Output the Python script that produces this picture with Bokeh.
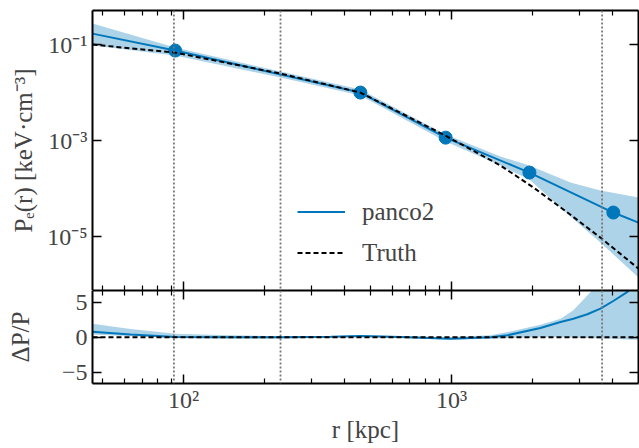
from bokeh.plotting import figure
from bokeh.models import (LogAxis, LinearAxis, FixedTicker, Span, Legend, LegendItem,
                          Range1d)
from bokeh.layouts import column
from bokeh.embed import file_html
from bokeh.resources import INLINE

# ---------------- data ----------------
r_truth = [45.7, 93, 230, 457, 933, 1524, 2023, 2710, 3597, 4990]
p_truth = [0.100, 0.068, 0.0249, 0.0100, 1.33e-3, 3.02e-4, 1.05e-4, 3.16e-5, 9.5e-6, 2.14e-6]

r_model = [45.7, 93, 457, 951, 1954, 4018, 4990]
p_model = [0.169, 0.075, 0.0100, 1.15e-3, 2.15e-4, 3.16e-5, 1.95e-5]

r_points = [93, 457, 951, 1954, 4018]
p_points = [0.075, 0.0100, 1.15e-3, 2.15e-4, 3.16e-5]

r_band = [45.7, 93, 230, 457, 951, 1524, 1954, 2780, 3597, 4990]
p_band_hi = [0.274, 0.0866, 0.0274, 0.01155, 1.33e-3, 4.65e-4, 3.01e-4, 1.33e-4, 9.08e-5, 6.49e-5]
p_band_lo = [0.0953, 0.059, 0.0205, 8.66e-3, 9.53e-4, 3.01e-4, 1.54e-4, 2.61e-5, 7.5e-6, 1.4e-6]

r_res = [45.7, 63.4, 93.3, 150, 230, 354, 457, 646, 991, 1400, 1618, 2148, 2553, 2851,
         3214, 3597, 4018, 4539, 4990]
res_model = [0.8, 0.4, 0.05, 0.0, 0.0, 0.1, 0.2, 0.05, -0.2, 0.0, 0.3, 1.33, 2.2, 2.67,
             3.3, 4.1, 5.2, 6.5, 8.0]
res_hi = [1.95, 1.2, 0.5, 0.3, 0.15, 0.15, 0.35, 0.15, 0.05, 0.3, 0.76, 1.8, 2.67, 3.86,
          6.0, 8.0, 10.0, 12.0, 14.0]
res_lo = [0.4, 0.15, -0.1, -0.15, -0.15, -0.05, 0.05, -0.1, -0.35, -0.2, -0.1, 0.0, 0.0,
          -0.05, -0.1, -0.15, -0.2, -0.3, -0.35]

r_vlines = [92, 230, 3650]

x_major = [100, 1000]
x_major_labels = ["10²", "10³"]
x_minor = [50, 60, 70, 80, 90, 200, 300, 400, 500, 600, 700, 800, 900, 2000, 3000, 4000]
y_major = [1e-5, 1e-3, 1e-1]
y_major_labels = ["10⁻⁵", "10⁻³", "10⁻¹"]
res_ticks = [-5, 0, 5]
res_labels = ["−5", "0", "5"]

x_lim = (45.7, 4990)
y_lim = (7.5e-7, 0.513)
res_lim = (-6.6, 6.7)

# ---------------- style ----------------
BLUE = "#0077BB"
FONT = "Liberation Serif"
TICK_FS = "24px"
LABEL_FS = "25px"


def style_axis(ax, labels=True):
    ax.axis_line_width = 2
    ax.axis_line_color = "black"
    ax.major_tick_in = 9
    ax.major_tick_out = 0
    ax.minor_tick_in = 5
    ax.minor_tick_out = 0
    ax.major_tick_line_width = 1.5
    ax.minor_tick_line_width = 1.2
    ax.major_label_text_font = FONT
    ax.axis_label_text_font = FONT
    ax.axis_label_text_font_style = "normal"
    ax.axis_label_text_font_size = LABEL_FS
    if labels:
        ax.major_label_text_font_size = TICK_FS
        ax.major_label_standoff = 5
    else:
        ax.major_label_text_font_size = "1px"
        ax.major_label_text_alpha = 0
        ax.major_label_standoff = 0


def add_vlines(p):
    for v in r_vlines:
        p.add_layout(Span(location=v, dimension="height", line_color="#777777",
                          line_dash="2 2", line_width=1.8))


x_range = Range1d(*x_lim)

# ---------------- top panel ----------------
p1 = figure(frame_width=546, frame_height=280, x_axis_type="log", y_axis_type="log",
            x_range=x_range, y_range=Range1d(*y_lim), output_backend="svg",
            toolbar_location=None, min_border_left=92, min_border_right=1,
            min_border_top=10, min_border_bottom=0)
p1.xgrid.visible = False
p1.ygrid.visible = False
p1.outline_line_color = None
p1.background_fill_color = "white"
p1.border_fill_color = "white"

xt = FixedTicker(ticks=x_major, minor_ticks=x_minor)
yt = FixedTicker(ticks=y_major, minor_ticks=[])
y_over = {t: l for t, l in zip(y_major, y_major_labels)}

ax = p1.xaxis[0]
ax.ticker = xt
style_axis(ax, labels=False)
ay = p1.yaxis[0]
ay.ticker = yt
ay.major_label_overrides = y_over
ay.axis_label = "Pₑ(r) [keV·cm⁻³]"
style_axis(ay, labels=True)
ay.axis_label_standoff = 7

top_ax = LogAxis(ticker=xt)
style_axis(top_ax, labels=False)
p1.add_layout(top_ax, "above")
right_ax = LogAxis(ticker=yt)
style_axis(right_ax, labels=False)
p1.add_layout(right_ax, "right")

add_vlines(p1)

p1.varea(x=r_band, y1=p_band_lo, y2=p_band_hi, fill_color=BLUE, fill_alpha=0.32)
model_line = p1.line(r_model, p_model, line_color=BLUE, line_width=2)
p1.scatter(r_points, p_points, size=13, fill_color=BLUE, line_color=BLUE)
truth_line = p1.line(r_truth, p_truth, line_color="black", line_width=2, line_dash="5 3")

legend = Legend(items=[LegendItem(label="panco2", renderers=[model_line]),
                       LegendItem(label="Truth", renderers=[truth_line])],
                location=(205, 23), border_line_color=None, background_fill_alpha=0,
                padding=0, margin=0, glyph_width=48, glyph_height=29, label_standoff=17,
                spacing=12, label_text_font=FONT, label_text_font_size=LABEL_FS)
p1.add_layout(legend)

# ---------------- bottom panel ----------------
p2 = figure(frame_width=546, frame_height=93, x_axis_type="log",
            x_range=x_range, y_range=Range1d(*res_lim), output_backend="svg",
            toolbar_location=None, min_border_left=92, min_border_right=1,
            min_border_top=0, min_border_bottom=0)
p2.xgrid.visible = False
p2.ygrid.visible = False
p2.outline_line_color = None
p2.background_fill_color = "white"
p2.border_fill_color = "white"

bx = p2.xaxis[0]
bx.ticker = xt
bx.major_label_overrides = {t: l for t, l in zip(x_major, x_major_labels)}
bx.axis_label = "r [kpc]"
style_axis(bx, labels=True)
bx.major_label_standoff = 3
bx.axis_label_standoff = 0

rt = FixedTicker(ticks=res_ticks, minor_ticks=[])
by = p2.yaxis[0]
by.ticker = rt
by.major_label_overrides = {t: l for t, l in zip(res_ticks, res_labels)}
by.axis_label = "ΔP/P"
style_axis(by, labels=True)
by.axis_label_standoff = 25

top2 = LogAxis(ticker=xt)
style_axis(top2, labels=False)
p2.add_layout(top2, "above")
right2 = LinearAxis(ticker=rt)
style_axis(right2, labels=False)
p2.add_layout(right2, "right")

add_vlines(p2)

p2.varea(x=r_res, y1=res_lo, y2=res_hi, fill_color=BLUE, fill_alpha=0.32)
p2.line(r_res, res_model, line_color=BLUE, line_width=2)
p2.add_layout(Span(location=0, dimension="width", line_color="black",
                   line_dash="5 3", line_width=2))

layout = column(p1, p2, spacing=0)
open("out.html", "w").write(file_html(layout, INLINE))
